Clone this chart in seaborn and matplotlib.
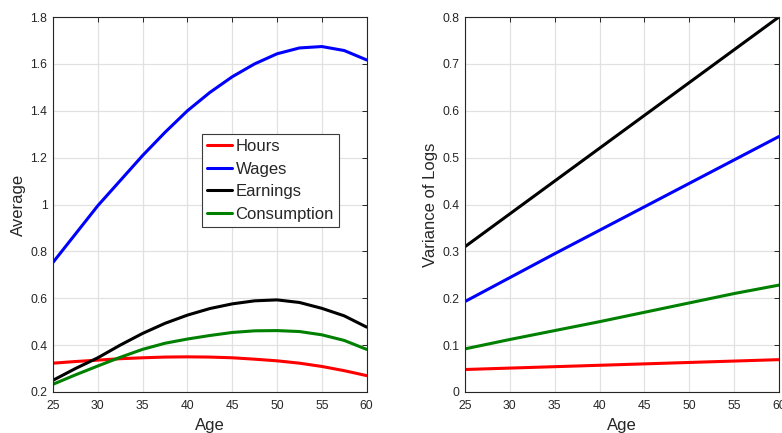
import matplotlib
matplotlib.use("Agg")
import matplotlib.pyplot as plt
import pandas as pd
import seaborn as sns

# Left panel: averages by age
age_fine = [25, 27.5, 30, 32.5, 35, 37.5, 40, 42.5, 45, 47.5, 50, 52.5, 55, 57.5, 60]
avg_hours = [0.323, 0.330, 0.336, 0.342, 0.346, 0.349, 0.350, 0.349, 0.346, 0.340, 0.333, 0.323, 0.309, 0.291, 0.270]
avg_wages = [0.753, 0.874, 0.995, 1.102, 1.209, 1.308, 1.400, 1.478, 1.545, 1.600, 1.643, 1.668, 1.674, 1.657, 1.617]
avg_earnings = [0.250, 0.300, 0.346, 0.400, 0.450, 0.493, 0.528, 0.556, 0.576, 0.589, 0.593, 0.582, 0.557, 0.525, 0.477]
avg_consumption = [0.233, 0.273, 0.311, 0.348, 0.382, 0.408, 0.426, 0.441, 0.454, 0.461, 0.462, 0.458, 0.444, 0.420, 0.382]

# Right panel: variance of logs by age
age_coarse = [25, 30, 35, 40, 45, 50, 55, 60]
var_hours = [0.048, 0.051, 0.054, 0.057, 0.060, 0.063, 0.066, 0.069]
var_wages = [0.193, 0.244, 0.295, 0.345, 0.395, 0.445, 0.495, 0.545]
var_earnings = [0.310, 0.380, 0.450, 0.520, 0.590, 0.660, 0.730, 0.800]
var_consumption = [0.092, 0.112, 0.131, 0.150, 0.170, 0.190, 0.210, 0.228]

series = ["Hours", "Wages", "Earnings", "Consumption"]
colors = {"Hours": "#ff0000", "Wages": "#0000ff", "Earnings": "#000000", "Consumption": "#008000"}


def long_frame(ages, cols):
    parts = []
    for name, vals in zip(series, cols):
        parts.append(pd.DataFrame({"Age": ages, "value": vals, "series": name}))
    return pd.concat(parts, ignore_index=True)


df_avg = long_frame(age_fine, [avg_hours, avg_wages, avg_earnings, avg_consumption])
df_var = long_frame(age_coarse, [var_hours, var_wages, var_earnings, var_consumption])

sns.set_theme(style="whitegrid")
plt.rcParams["font.family"] = ["Liberation Sans", "DejaVu Sans"]
dark = "#262626"

fig = plt.figure(figsize=(7.82, 4.33), dpi=100)
ax1 = fig.add_axes([0.0678, 0.0947, 0.401, 0.866])
ax2 = fig.add_axes([0.5946, 0.0947, 0.4014, 0.866])

sns.lineplot(data=df_avg, x="Age", y="value", hue="series", hue_order=series,
             palette=colors, linewidth=2.2, ax=ax1)
sns.lineplot(data=df_var, x="Age", y="value", hue="series", hue_order=series,
             palette=colors, linewidth=2.2, ax=ax2, legend=False)

ax1.set_ylim(0.2, 1.8)
ax1.set_yticks([0.2, 0.4, 0.6, 0.8, 1.0, 1.2, 1.4, 1.6, 1.8])
ax1.set_yticklabels(["0.2", "0.4", "0.6", "0.8", "1", "1.2", "1.4", "1.6", "1.8"])
ax1.set_ylabel("Average", fontsize=12, color=dark, labelpad=3)

ax2.set_ylim(0, 0.8)
ax2.set_yticks([0, 0.1, 0.2, 0.3, 0.4, 0.5, 0.6, 0.7, 0.8])
ax2.set_yticklabels(["0", "0.1", "0.2", "0.3", "0.4", "0.5", "0.6", "0.7", "0.8"])
ax2.set_ylabel("Variance of Logs", fontsize=12, color=dark, labelpad=3)

for ax in (ax1, ax2):
    ax.set_xlim(25, 60)
    ax.set_xticks([25, 30, 35, 40, 45, 50, 55, 60])
    ax.set_xlabel("Age", fontsize=12, color=dark, labelpad=4)
    ax.grid(True, color="#e1e1e1", linewidth=0.9)
    ax.tick_params(axis="both", direction="in", top=True, right=True, length=3.5, width=0.7,
                   colors=dark, labelsize=8.7)
    ax.tick_params(axis="x", pad=6)
    ax.tick_params(axis="y", pad=4)
    for sp in ax.spines.values():
        sp.set_color(dark)
        sp.set_linewidth(0.8)

leg = ax1.legend(loc="upper left", bbox_to_anchor=(0.476, 0.688), borderaxespad=0,
                 fontsize=12, frameon=True, fancybox=False, framealpha=1,
                 handlelength=1.5, handletextpad=0.2, borderpad=0.3,
                 labelspacing=0.45, title=None)
leg.get_frame().set_edgecolor("#3a3a3a")
leg.get_frame().set_linewidth(0.8)
for line in leg.get_lines():
    line.set_linewidth(2.2)

fig.savefig("out.png", dpi=100)
